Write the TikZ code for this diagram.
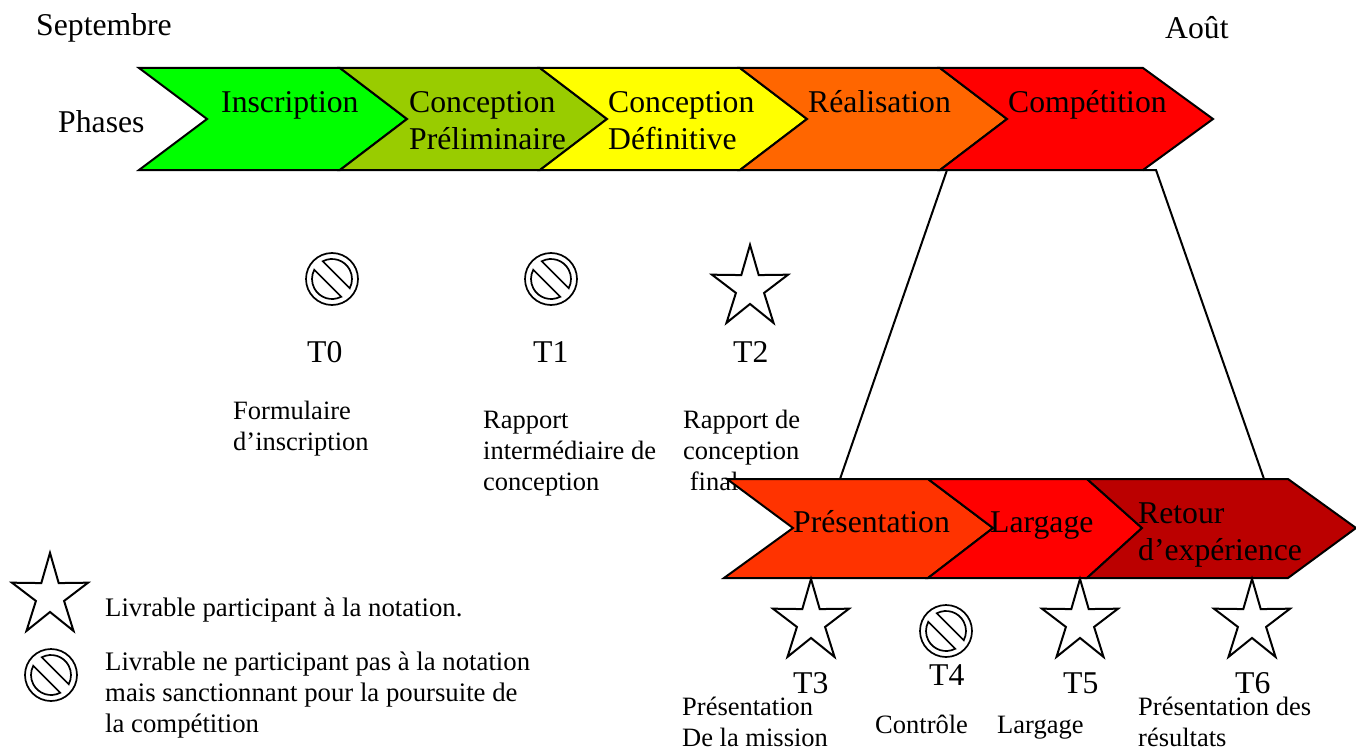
\documentclass[tikz,border=0pt]{standalone}
\usepackage{fontspec}
\usepackage{xcolor}
\setmainfont{Liberation Serif}
\usetikzlibrary{shapes.geometric}
\definecolor{vertA}{HTML}{00FF00}
\definecolor{vertB}{HTML}{99CC00}
\definecolor{jaune}{HTML}{FFFF00}
\definecolor{orangeA}{HTML}{FF6600}
\definecolor{orangeB}{HTML}{FF3300}
\definecolor{rougeA}{HTML}{FF0000}
\definecolor{rougeB}{HTML}{BB0000}
\tikzset{
	chevron/.style={draw=black,line width=2pt,line join=miter},
	link/.style={draw=black,line width=2pt},
	grand/.style={inner sep=0pt,anchor=base west,align=left,font=\fontsize{31.7}{36.5}\selectfont},
	petit/.style={inner sep=0pt,anchor=base west,align=left,font=\fontsize{26.5}{30.6}\selectfont},
	legende/.style={inner sep=0pt,anchor=base west,align=left,font=\fontsize{26.75}{30.6}\selectfont},
	etoile/.style={star,star points=5,star point ratio=2.7,draw=black,line width=2pt,inner sep=0pt,minimum size=80pt,transform shape,yscale=1.078},
	pics/interdit/.style={code={
		\draw[line width=1.7pt] (0,0) circle (26);
		\draw[line width=1.7pt] (62.5:20) arc [start angle=62.5,end angle=207.5,radius=20] -- cycle;
		\draw[line width=1.7pt] (242.5:20) arc [start angle=242.5,end angle=387.5,radius=20] -- cycle;
	}}
}
\begin{document}
\begin{tikzpicture}[x=1pt,y=-1pt]
	\useasboundingbox (0,0) rectangle (1356,749);

	% textes du bas, recouverts en partie par les phases
	\node[petit] (f0) at (233,450) {Formulaire\\d’inscription};
	\node[petit] (f1) at (483,490) {Rapport\\intermédiaire de\\conception};
	\node[petit] (f2) at (683,490) {Rapport de\\conception\\\ final};

	% phases
	\draw[chevron,fill=vertA] (139,68) -- (340,68) -- (407,119) -- (340,170) -- (139,170) -- (207,119) -- cycle;
	\draw[chevron,fill=vertB] (340,68) -- (540,68) -- (607,119) -- (540,170) -- (340,170) -- (407,119) -- cycle;
	\draw[chevron,fill=jaune] (540,68) -- (740,68) -- (807,119) -- (740,170) -- (540,170) -- (607,119) -- cycle;
	\draw[chevron,fill=orangeA] (740,68) -- (940,68) -- (1007,119) -- (940,170) -- (740,170) -- (807,119) -- cycle;
	\draw[chevron,fill=rougeA] (940,68) -- (1143,68) -- (1213,119) -- (1143,170) -- (940,170) -- (1007,119) -- cycle;

	\draw[chevron,fill=orangeB] (727,479) -- (928,479) -- (993,528) -- (928,578) -- (724,578) -- (793,528) -- cycle;
	\draw[chevron,fill=rougeA] (928,479) -- (1087,479) -- (1142,528) -- (1087,578) -- (928,578) -- (993,528) -- cycle;
	\draw[chevron,fill=rougeB] (1087,479) -- (1288,479) -- (1356,528) -- (1288,578) -- (1087,578) -- (1142,528) -- cycle;

	\coordinate (hautG) at (947,170);
	\coordinate (coin) at (1143,170);
	\coordinate (hautD) at (1156,170);
	\coordinate (basG) at (840,479);
	\coordinate (basD) at (1264,479);
	\draw[link] (hautG) -- (basG);
	\draw[link] (coin) -- (hautD) -- (basD);

	\node[grand] (sept) at (36,36) {Septembre};
	\node[grand] (aout) at (1165,39) {Août};
	\node[grand] (phases) at (58,132) {Phases};
	\node[grand] (p0) at (221,113) {Inscription};
	\node[grand] (p1) at (409,149) {Conception\\Préliminaire};
	\node[grand] (p2) at (608,149) {Conception\\Définitive};
	\node[grand] (p3) at (808,113) {Réalisation};
	\node[grand] (p4) at (1008,113) {Compétition};
	\node[grand] (c0) at (793,532) {Présentation};
	\node[grand] (c1) at (990,532) {Largage};
	\node[grand] (c2) at (1138,560) {Retour\\d’expérience};

	% jalons
	\pic at (332,279) {interdit};
	\pic at (551,279) {interdit};
	\pic at (946,631) {interdit};
	\pic at (51,675) {interdit};
	\node[etoile] (s2) at (750,288) {};
	\node[etoile] (s3) at (811,622) {};
	\node[etoile] (s5) at (1080,622) {};
	\node[etoile] (s6) at (1252,622) {};
	\node[etoile] (sl) at (50,596) {};

	\node[grand] (t0) at (307,362) {T0};
	\node[grand] (t1) at (533,362) {T1};
	\node[grand] (t2) at (733,362) {T2};
	\node[grand] (t3) at (793,693) {T3};
	\node[grand] (t4) at (929,685) {T4};
	\node[grand] (t5) at (1063,693) {T5};
	\node[grand] (t6) at (1235,693) {T6};

	\node[petit] (f3) at (682,746) {Présentation\\De la mission};
	\node[petit] (f4) at (875,733) {Contrôle};
	\node[petit] (f5) at (997,733) {Largage};
	\node[petit] (f6) at (1138,746) {Présentation des\\résultats};

	\node[legende] (l0) at (105,616) {Livrable participant à la notation.};
	\node[legende] (l1) at (105,732) {Livrable ne participant pas à la notation\\mais sanctionnant pour la poursuite de\\la compétition};
\end{tikzpicture}
\end{document}
